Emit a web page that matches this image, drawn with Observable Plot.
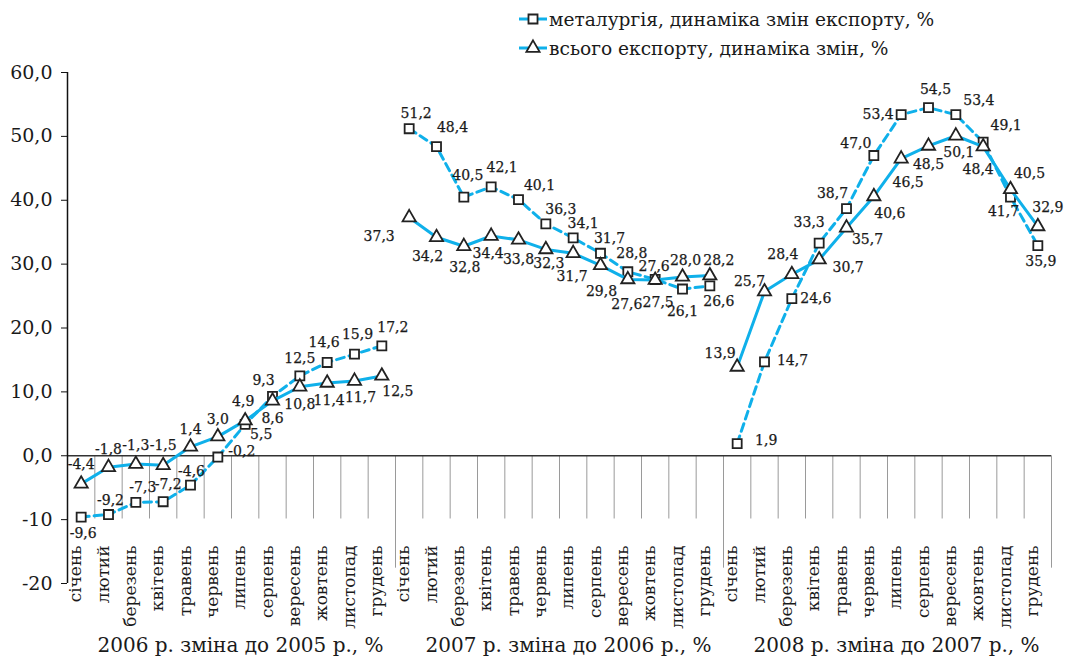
<!DOCTYPE html>
<html><head><meta charset="utf-8">
<script src="https://cdn.jsdelivr.net/npm/d3@7"></script>
<script src="https://cdn.jsdelivr.net/npm/@observablehq/plot@0.6"></script>
<style>
body{margin:0;background:#fff;font-family:"DejaVu Serif",serif;}
#legend{height:62px;display:block;}
#chart svg{display:block;overflow:visible;}
</style></head><body>
<svg id="legend" width="1065" height="62"></svg>
<div id="chart"></div>
<script>
const months = ["січень","лютий","березень","квітень","травень","червень","липень","серпень","вересень","жовтень","листопад","грудень"];
const years = ["2006","2007","2008"];
const groupLabels = ["2006 р. зміна до 2005 р., %","2007 р. зміна до 2006 р., %","2008 р. зміна до 2007 р., %"];
const seriesNames = ["металургія, динаміка змін експорту, %","всього експорту, динаміка змін, %"];
const yTicks = [-20,-10,0,10,20,30,40,50,60];

// металургія (squares, dashed)
const metal2006 = [-9.6,-9.2,-7.3,-7.2,-4.6,-0.2,4.9,9.3,12.5,14.6,15.9,17.2];
const metal2007 = [51.2,48.4,40.5,42.1,40.1,36.3,34.1,31.7,28.8,27.6,26.1,26.6];
const metal2008 = [1.9,14.7,24.6,33.3,38.7,47.0,53.4,54.5,53.4,49.1,40.5,32.9];
// всього експорту (triangles, solid)
const total2006 = [-4.4,-1.8,-1.3,-1.5,1.4,3.0,5.5,8.6,10.8,11.4,11.7,12.5];
const total2007 = [37.3,34.2,32.8,34.4,33.8,32.3,31.7,29.8,27.6,27.5,28.0,28.2];
const total2008 = [13.9,25.7,28.4,30.7,35.7,40.6,46.5,48.5,50.1,48.4,41.7,35.9];

// label placement (pixel offsets from the marker)
const metalLabelOffsets = [
  [2,16],[2,-14],[7,-15],[5,-17],[1,-14],[24,-6],[-2,-23],[-9,-16],[0,-17],[-3,-20],[3,-20],[11,-18],
  [7,-15],[16,-19],[4,-22],[11,-19],[21,-14],[15,-14],[10,-14],[9,-15],[4,-18],[-1,-13],[0,22],[9,16],
  [29,-3],[28,-1],[24,0],[-10,-21],[-14,-15],[-18,-12],[-23,0],[7,-18],[23,-14],[23,-17],[19,-24],[10,-38]
];
const totalLabelOffsets = [
  [0,-19],[0,-18],[0,-19],[0,-20],[0,-17],[0,-17],[16,14],[0,18],[0,18],[2,18],[6,16],[16,16],
  [-30,19],[-9,19],[1,21],[-3,17],[0,20],[3,14],[-1,23],[1,26],[-1,25],[3,22],[3,-16],[9,-15],
  [-17,-13],[-15,-10],[-9,-20],[29,8],[21,12],[16,17],[7,24],[0,19],[3,17],[-5,23],[-7,22],[3,35]
];

const BLUE = "#0fb0ea";
const INK = "#1a1a1a";
const metal = [metal2006, metal2007, metal2008];
const total = [total2006, total2007, total2008];
const metalRows = [], totalRows = [];
years.forEach((yr, yi) => months.forEach((m, mi) => {
  const i = yi * 12 + mi;
  metalRows.push({i, year: yr, month: m, value: metal[yi][mi], off: metalLabelOffsets[i]});
  totalRows.push({i, year: yr, month: m, value: total[yi][mi], off: totalLabelOffsets[i]});
}));
const fmt = v => v.toFixed(1).replace(".", ",");
const tickFmt = v => v >= 0 ? v.toFixed(1).replace(".", ",") : String(v);

const groupEnds = years.map((y, k) => (k + 1) * 12 - 0.5);
const boundaries = d3.range(1, 36).map(k => k - 0.5).filter(b => !groupEnds.includes(b));

const labelMarks = rows => rows.map(r => Plot.text([r], {
  x: "i", y: "value", text: d => fmt(d.value), dx: r.off[0], dy: r.off[1],
  fontSize: 14, fill: INK, stroke: INK, strokeWidth: 0.25
}));

const chart = Plot.plot({
  width: 1065, height: 601,
  marginLeft: 67, marginRight: 14, marginTop: 10, marginBottom: 80,
  style: {fontFamily: "DejaVu Serif, serif", background: "#fff"},
  x: {type: "linear", domain: [-0.5, 35.5], axis: null},
  y: {domain: [-20, 60], axis: null},
  marks: [
    Plot.ruleX(boundaries, {y1: 0, y2: -9.9, stroke: "#9a9a9a", strokeWidth: 1}),
    Plot.ruleX(groupEnds, {y1: 0, y2: -17.6, stroke: "#9a9a9a", strokeWidth: 1}),
    Plot.ruleY([0], {stroke: "#333", strokeWidth: 1.5}),
    Plot.ruleX([-0.5], {stroke: "#111", strokeWidth: 1.5}),
    Plot.axisY({ticks: yTicks, tickFormat: tickFmt, tickSize: 6, tickPadding: 9, fontSize: 19, label: null, stroke: "#111", fill: INK}),
    Plot.text(metalRows, {x: "i", frameAnchor: "bottom", text: "month", rotate: -90, textAnchor: "end", dy: -38, fontSize: 17, fill: INK, letterSpacing: 1.2}),
    Plot.text(groupLabels, {x: (d, k) => k * 12 + 5.5, frameAnchor: "bottom", dy: 68, dx: 9, text: d => d, fontSize: 20, fill: INK}),
    Plot.line(metalRows, {x: "i", y: "value", z: "year", stroke: BLUE, strokeWidth: 3, strokeDasharray: "8,5"}),
    Plot.dot(metalRows, {x: "i", y: "value", symbol: "square", r: 5.1, fill: "white", stroke: "#222", strokeWidth: 1.8}),
    Plot.line(totalRows, {x: "i", y: "value", z: "year", stroke: BLUE, strokeWidth: 3}),
    Plot.dot(totalRows, {x: "i", y: "value", symbol: "triangle", r: 4.9, fill: "white", stroke: "#222", strokeWidth: 1.8}),
    ...labelMarks(metalRows),
    ...labelMarks(totalRows)
  ]
});
document.getElementById("chart").appendChild(chart);

// legend
const lg = d3.select("#legend");
const rowsY = [19, 48];
seriesNames.forEach((name, k) => {
  const y = rowsY[k];
  lg.append("line").attr("x1", 519).attr("x2", 547).attr("y1", y).attr("y2", y)
    .attr("stroke", BLUE).attr("stroke-width", 3);
  const sym = d3.symbol().type(k === 0 ? d3.symbolSquare : d3.symbolTriangle).size(Math.PI * (k === 0 ? 5.1 : 4.9) ** 2);
  lg.append("path").attr("d", sym()).attr("transform", `translate(533,${y})`)
    .attr("fill", "white").attr("stroke", "#222").attr("stroke-width", 1.8);
  lg.append("text").attr("x", 549).attr("y", y).attr("dy", "0.35em")
    .attr("font-size", 18.6).attr("fill", INK).attr("font-family", "DejaVu Serif, serif").text(name);
});
</script>
</body></html>
